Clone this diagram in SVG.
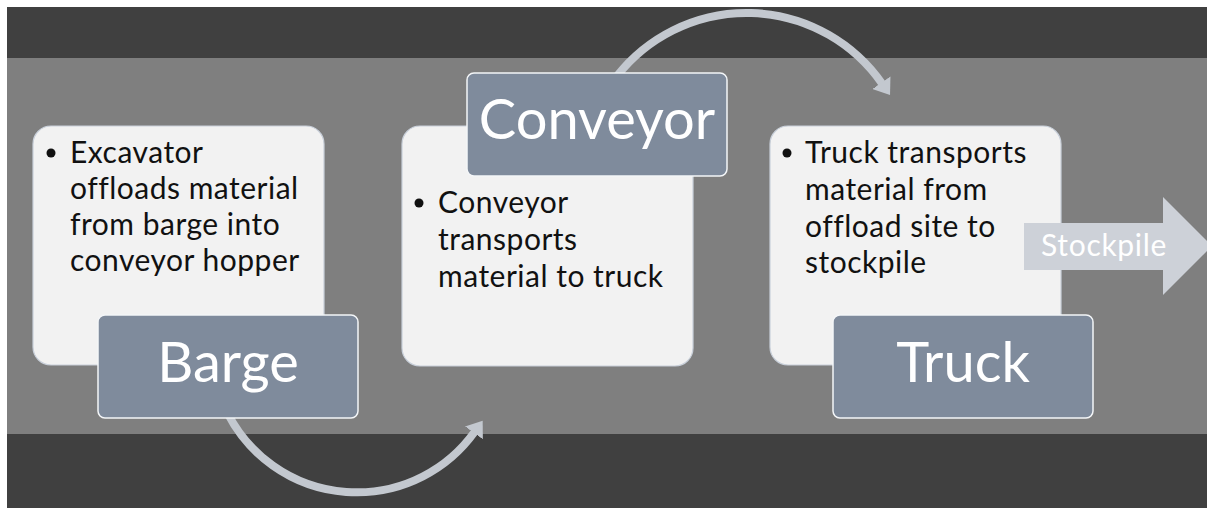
<svg xmlns="http://www.w3.org/2000/svg" width="1207" height="508" viewBox="0 0 1207 508">
  <style>
    .band-dark { fill: #404040; }
    .band-mid { fill: #7f7f7f; }
    .card { fill: #f2f2f2; stroke: #c9d0da; stroke-width: 1.2; }
    .tag { fill: #7f8b9c; stroke: #f4f6f8; stroke-width: 1.5; }
    .body { font-family: Lato, "Open Sans", sans-serif; font-size: 30px; letter-spacing: 0.5px; fill: #111111; }
    .title { font-family: Lato, "Open Sans", sans-serif; font-size: 56px; fill: #ffffff; text-anchor: middle; }
    .flow { fill: none; stroke: #c3c8cf; stroke-width: 8; }
    .stock { fill: #cdd1d8; }
    .stock-label { font-family: Lato, "Open Sans", sans-serif; font-size: 30px; letter-spacing: 0.7px; fill: #ffffff; }
  </style>
  <defs>
    <marker id="head" markerUnits="userSpaceOnUse" markerWidth="16" markerHeight="22" viewBox="0 0 16 22" refX="1" refY="11" orient="auto">
      <path d="M0,0 L15,11 L0,22 z" fill="#c3c8cf"/>
    </marker>
  </defs>

  <!-- backdrop bands -->
  <rect x="0" y="0" width="1207" height="508" fill="#ffffff"/>
  <rect class="band-dark" x="7" y="7" width="1200" height="501"/>
  <rect class="band-mid" x="7" y="58" width="1200" height="376"/>

  <!-- curved connectors between stages -->
  <g id="connectors">
    <path class="flow" d="M228,414 A145,145 0 0 0 474.5,432" marker-end="url(#head)"/>
    <path class="flow" d="M617,76 A165,165 0 0 1 882,83.5" marker-end="url(#head)"/>
  </g>

  <!-- stage 1 -->
  <g id="barge">
    <rect class="card" x="33" y="126" width="291" height="239" rx="18"/>
    <circle cx="51" cy="153" r="4.5" fill="#111111"/>
    <text class="body" x="70" y="163">Excavator</text>
    <text class="body" x="70" y="199">offloads material</text>
    <text class="body" x="70" y="235">from barge into</text>
    <text class="body" x="70" y="271">conveyor hopper</text>
    <rect class="tag" x="98" y="315" width="260" height="103" rx="7"/>
    <text class="title" x="228" y="382">Barge</text>
  </g>

  <!-- stage 2 -->
  <g id="conveyor">
    <rect class="card" x="402" y="126" width="291" height="240" rx="18"/>
    <circle cx="419" cy="203" r="4.5" fill="#111111"/>
    <text class="body" x="438" y="213">Conveyor</text>
    <text class="body" x="438" y="250">transports</text>
    <text class="body" x="438" y="287">material to truck</text>
    <rect class="tag" x="467" y="73" width="260" height="103" rx="7"/>
    <text class="title" x="597" y="139">Conveyor</text>
  </g>

  <!-- stage 3 -->
  <g id="truck">
    <rect class="card" x="770" y="126" width="291" height="239" rx="18"/>
    <circle cx="787" cy="153" r="4.5" fill="#111111"/>
    <text class="body" x="805" y="163">Truck transports</text>
    <text class="body" x="805" y="200">material from</text>
    <text class="body" x="805" y="237">offload site to</text>
    <text class="body" x="805" y="273">stockpile</text>
    <rect class="tag" x="833" y="315" width="260" height="103" rx="7"/>
    <text class="title" x="963" y="382">Truck</text>
  </g>

  <!-- outgoing block arrow -->
  <g id="stockpile">
    <path class="stock" d="M1024,223 L1163,223 L1163,197 L1212,246 L1163,295 L1163,270 L1024,270 z"/>
    <text class="stock-label" x="1041" y="256">Stockpile</text>
  </g>
</svg>
